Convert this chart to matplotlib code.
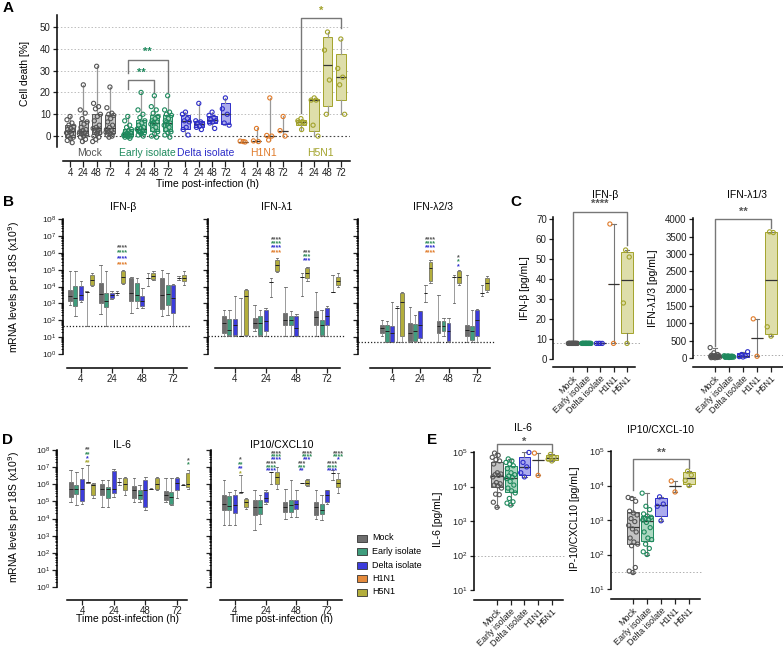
import numpy as np
import matplotlib
matplotlib.use('Agg')
import matplotlib.pyplot as plt
import matplotlib.transforms as mtransforms
from matplotlib.patches import Rectangle
from matplotlib.ticker import LogLocator, NullFormatter, NullLocator

plt.rcParams['font.family'] = ['Liberation Sans', 'DejaVu Sans']

# ---------------- data ----------------
groups = ['Mock', 'Early isolate', 'Delta isolate', 'H1N1', 'H5N1']
hours = ['4', '24', '48', '72']

# A: cell death [%], one list per time point (4, 24, 48, 72 h)
death_mock = [
    [9, 7.5, 6, 5, 4.5, 3.5, 3, 2.5, 2, 1.5, 1, 0, -0.5, -1, -2, -3],
    [23.5, 12, 10.5, 8, 6.5, 5.5, 4, 3, 2.5, 2, 1.5, 1, 0.5, 0, -0.5, -1.5, -2.5, 1.2],
    [32, 15, 13.5, 12.5, 10, 9, 7, 5, 4, 3.5, 3, 2.5, 1.5, 1, 0, -0.5, -1.5, -2.5, 2],
    [22.5, 13, 10.5, 10, 9.5, 8, 6.5, 5, 4, 3, 2.5, 2, 1.5, 1, 0.5, 0, -0.5, 1.8],
]
death_early = [
    [9, 7, 5, 4, 3, 2.5, 2, 1.5, 1, 0.8, 0.5, 0.2, 0, -0.3, -0.5, -1, 1.2, 0.3],
    [20, 12, 10, 8.5, 7, 6, 5, 4, 3.5, 3, 2.5, 2, 1.5, 1, 0.5, 0, 1.8, 3.2],
    [18.5, 13.5, 12, 10.5, 9, 8, 7, 6.5, 6, 5.5, 4, 3, 2, 1, 0, -0.5, 6.2],
    [18.5, 12, 11, 10, 9.5, 8, 7, 6, 5.5, 5, 4, 3, 2, 1.5, 0.5, -0.5, 6.5],
]
death_delta = [
    [11, 10, 8, 7, 6.5, 4, 3, 0.5],
    [15, 7, 6.5, 6, 5.5, 4.5, 4, 3],
    [11, 9.5, 8.5, 7.5, 7, 6.5, 6, 3.5],
    [17.5, 12.5, 10, 6, 5],
]
death_h1n1 = [
    [-2.5, -2.3, -2.7],
    [3.5, -2.2, -2.5],
    [17.5, 0.3, 0, -1.8],
    [9, 2.5, 0],
]
death_h5n1 = [
    [8, 7, 6.5, 6, 6, 3],
    [17.5, 16.5, 16.5, 5, 0],
    [47.7, 39.4, 25.7, 10],
    [44.5, 31, 27, 23.5, 10],
]

# B / D: mRNA per 18S, log10 [min, q1, median, q3, max]; rows = 4/24/48/72 h,
# columns = Mock, Early, Delta, H1N1, H5N1
ifnb_mrna = [
    [[2.92, 3.12, 3.46, 3.81, 4.9], [2.27, 2.83, 3.32, 4.01, 4.9], [3.1, 3.22, 3.52, 4.01, 4.3], [1.64, 3.66, 3.66, 3.66, 3.72], [4.01, 4.11, 4.4, 4.7, 4.8]],
    [[2.39, 3.02, 3.58, 4.21, 5.3], [1.64, 2.79, 3.12, 3.62, 4.9], [3.26, 3.32, 3.5, 3.62, 3.72], [3.5, 3.6, 3.6, 3.6, 3.72], [4.17, 4.21, 4.56, 4.9, 5.0]],
    [[2.43, 3.16, 3.6, 4.5, 4.55], [2.73, 3.12, 3.5, 4.21, 4.5], [2.73, 2.83, 3.12, 3.42, 3.91], [4.01, 4.5, 4.5, 4.5, 4.8], [4.37, 4.45, 4.64, 4.8, 4.9]],
    [[2.23, 2.67, 3.5, 4.5, 5.0], [2.33, 2.92, 3.58, 4.11, 4.8], [1.64, 2.43, 3.32, 4.11, 4.15], [4.4, 4.5, 4.5, 4.5, 4.6], [4.11, 4.31, 4.5, 4.7, 4.9]],
]
ifnl1_mrna = [
    [[1.08, 1.24, 1.83, 2.27, 2.62], [1.08, 1.14, 1.44, 2.09, 2.62], [1.08, 1.14, 1.73, 2.09, 3.41], [1.08, 1.08, 1.08, 1.08, 3.31], [1.08, 1.14, 3.41, 3.8, 3.85]],
    [[1.34, 1.54, 1.83, 2.13, 2.92], [1.08, 1.14, 1.83, 2.23, 2.62], [1.08, 1.34, 1.97, 2.62, 2.72], [3.37, 4.24, 4.24, 4.24, 4.49], [4.85, 4.89, 5.28, 5.58, 5.68]],
    [[1.08, 1.73, 2.03, 2.42, 4.0], [1.08, 1.73, 2.03, 2.27, 2.52], [1.08, 1.08, 1.54, 2.23, 2.38], [3.41, 4.59, 4.59, 4.59, 4.79], [4.3, 4.49, 4.79, 5.09, 5.18]],
    [[1.08, 1.73, 2.19, 2.52, 3.7], [1.08, 1.14, 1.73, 2.03, 2.58], [1.08, 1.73, 2.23, 2.72, 2.82], [3.7, 3.7, 3.7, 3.7, 4.69], [4.0, 4.1, 4.3, 4.59, 4.79]],
]
ifnl23_mrna = [
    [[1.04, 1.24, 1.54, 1.73, 2.03], [0.69, 0.69, 1.34, 1.73, 1.93], [0.69, 0.69, 1.24, 1.63, 3.11], [0.69, 2.72, 2.72, 2.72, 2.82], [0.69, 1.04, 3.11, 3.61, 3.7]],
    [[0.69, 0.75, 1.24, 1.83, 2.78], [0.69, 0.75, 1.34, 1.79, 2.33], [0.69, 0.95, 1.73, 2.52, 2.55], [3.11, 3.61, 3.61, 3.61, 4.1], [4.2, 4.3, 5.09, 5.48, 5.58]],
    [[0.69, 1.24, 1.63, 1.93, 3.51], [1.04, 1.34, 1.67, 1.93, 2.13], [0.69, 0.75, 1.34, 1.83, 2.13], [3.02, 4.59, 4.59, 4.59, 4.69], [4.1, 4.2, 4.55, 4.89, 4.99]],
    [[0.69, 1.04, 1.44, 1.73, 4.69], [0.69, 0.85, 1.34, 1.63, 2.62], [0.69, 1.04, 2.03, 2.62, 2.65], [3.41, 3.61, 3.61, 3.61, 4.1], [3.7, 3.81, 4.2, 4.5, 4.63]],
]
il6_mrna = [
    [[4.97, 5.26, 5.75, 6.14, 6.86], [4.78, 5.42, 5.71, 5.95, 6.73], [4.87, 5.03, 5.75, 6.28, 6.92], [6.1, 6.1, 6.12, 6.12, 7.11], [5.17, 5.36, 5.95, 6.04, 6.08]],
    [[4.68, 5.36, 5.75, 6.04, 6.24], [4.68, 5.17, 5.75, 5.85, 6.24], [5.26, 5.46, 5.75, 6.78, 6.88], [5.95, 6.14, 6.14, 6.14, 6.34], [5.36, 5.65, 6.04, 6.34, 6.43]],
    [[4.97, 5.17, 5.65, 5.89, 6.34], [4.97, 5.11, 5.36, 5.65, 5.95], [4.48, 4.68, 5.65, 6.24, 6.43], [5.7, 5.75, 5.75, 5.75, 5.8], [5.65, 5.75, 6.04, 6.34, 6.43]],
    [[4.97, 5.07, 5.36, 5.59, 6.37], [4.78, 4.87, 5.26, 5.56, 6.34], [5.17, 5.69, 6.1, 6.37, 6.4], [5.93, 5.95, 5.95, 5.95, 6.0], [5.75, 5.85, 6.0, 6.67, 6.82]],
]
ip10_mrna = [
    [[3.61, 4.48, 4.87, 5.36, 6.24], [3.61, 4.48, 4.72, 5.3, 5.56], [3.61, 4.33, 4.78, 5.36, 5.65], [5.46, 5.52, 5.52, 5.52, 6.53], [4.58, 4.68, 4.97, 5.11, 5.17]],
    [[3.31, 4.19, 4.68, 5.07, 5.65], [3.7, 4.29, 4.68, 5.07, 5.36], [4.87, 4.97, 5.22, 5.56, 5.65], [6.04, 6.7, 6.7, 6.7, 6.73], [5.75, 6.04, 6.43, 6.73, 7.02]],
    [[4.0, 4.39, 4.68, 4.97, 5.75], [4.09, 4.39, 4.78, 5.07, 6.24], [4.09, 4.58, 4.87, 5.07, 5.65], [6.06, 6.08, 6.08, 6.08, 6.1], [5.89, 5.95, 6.1, 6.24, 6.28]],
    [[4.0, 4.19, 4.68, 4.97, 5.65], [3.9, 4.29, 4.48, 4.87, 5.36], [4.87, 4.97, 5.36, 5.65, 5.69], [6.24, 6.63, 6.63, 6.63, 6.86], [5.46, 5.85, 6.08, 6.28, 6.63]],
]

# significance marks: (time index, group column, text, colour index, log10 y)
ifnb_stars = [(1, 4, '****', 0, 6.28), (1, 4, '****', 1, 5.99), (1, 4, '****', 2, 5.65), (1, 4, '****', 3, 5.30)]
ifnl1_stars = [(1, 4, '****', 0, 6.76), (1, 4, '****', 1, 6.53), (1, 4, '****', 2, 6.27), (1, 4, '****', 3, 6.03),
               (2, 4, '***', 0, 6.03), (2, 4, '***', 1, 5.78), (2, 4, '***', 2, 5.54)]
ifnl23_stars = [(1, 4, '****', 0, 6.76), (1, 4, '****', 1, 6.53), (1, 4, '****', 2, 6.27), (1, 4, '****', 3, 6.03),
                (2, 4, '*', 0, 5.72), (2, 4, '*', 1, 5.44), (2, 4, '*', 2, 5.17)]
il6_stars = [(0, 3, '**', 0, 7.99), (0, 3, '**', 1, 7.74), (0, 3, '*', 2, 7.49), (0, 3, '**', 4, 7.25),
             (3, 4, '*', 0, 7.38), (3, 4, '*', 1, 7.15)]
ip10_stars = [(0, 3, '*', 0, 7.41), (0, 3, '**', 1, 7.15), (0, 3, '**', 2, 6.92), (0, 3, '*', 4, 6.63),
              (1, 4, '****', 0, 7.76), (1, 4, '****', 1, 7.6), (1, 4, '****', 2, 7.45),
              (1, 3, '****', 0, 7.17), (1, 3, '****', 1, 6.98), (1, 3, '****', 2, 6.78),
              (2, 4, '****', 0, 7.76), (2, 4, '****', 1, 7.6), (2, 4, '***', 2, 7.45),
              (2, 3, '***', 0, 7.17), (2, 3, '***', 1, 6.98), (2, 3, '**', 2, 6.78),
              (3, 4, '****', 0, 7.76), (3, 4, '****', 1, 7.6), (3, 4, '*', 2, 7.45),
              (3, 3, '****', 0, 7.17), (3, 3, '****', 1, 6.98), (3, 3, '****', 2, 6.78)]

# C: protein [pg/mL]
ifnb_prot = [
    [7.8] * 18,
    [7.8] * 18,
    [7.8] * 4,
    [7.8, 67.5],
    [7.8, 28, 51, 54.5],
]
ifnl_prot = [
    [5, 10, 15, 20, 25, 30, 35, 40, 45, 50, 55, 60, 65, 70, 80, 100, 150, 300],
    [15, 20, 20, 25, 25, 30, 30, 35, 35, 40, 40, 45, 45, 50, 50, 55, 60, 65],
    [30, 40, 60, 100, 180],
    [50, 1130],
    [630, 900, 3620, 3640],
]
# E: protein [pg/mL]
il6_prot = [
    [2500, 3500, 5800, 6000, 9000, 10500, 11000, 12000, 13000, 19000, 21000, 22000, 23000, 25000,
     45000, 55000, 60000, 70000, 80000, 93000],
    [2900, 3300, 3600, 4500, 6500, 7500, 9000, 11000, 14000, 17000, 18500, 20000, 22000, 25000,
     33000, 40000, 45000, 50000, 55000, 63000],
    [19000, 25000, 37000, 50000, 97000],
    [21000, 93000],
    [55000, 62000, 70000, 85000],
]
ip10_prot = [
    [30, 33, 42, 180, 200, 230, 300, 450, 550, 700, 900, 1100, 1400, 1600, 1800, 3500, 4200, 4500],
    [100, 120, 150, 200, 270, 300, 450, 600, 850, 1000, 1050, 1100, 1200, 1300, 1500, 2000, 2500, 6000],
    [950, 2500, 2900, 4700],
    [6500, 13500],
    [10000, 14000, 20000, 26000],
]

# ---------------- style ----------------
edge_cols = ['#555555', '#1f8a5e', '#2d2dc8', '#e07b2a', '#a3a32c']
fill_cols = ['#c4c4c4', '#acd7c1', '#ababee', '#f2c9a4', '#dedeaa']
solid_cols = ['#6e6e6e', '#3f9d7d', '#3c3cdc', '#e48a3c', '#b3ae3c']
star_cols = ['#555555', '#2e8b57', '#2f2fd0', '#e07b2a', '#a6a62e']

W, H = 783, 652
fig = plt.figure(figsize=(W / 100, H / 100), dpi=100)


def add_ax(x0, y0, x1, y1):
    # axes from a pixel box, top-left origin
    return fig.add_axes([x0 / W, 1 - y1 / H, (x1 - x0) / W, (y1 - y0) / H])


def ftext(x, y, s, **kw):
    fig.text(x / W, 1 - y / H, s, **kw)


def clean(ax, lw=1.1):
    ax.spines['top'].set_visible(False)
    ax.spines['right'].set_visible(False)
    ax.spines['left'].set_linewidth(lw)
    ax.spines['bottom'].set_linewidth(lw)
    ax.tick_params(width=0.9, length=3, labelsize=7, pad=1.5, colors='#222222')


def box_stats(vals, flat=False):
    v = np.asarray(vals, float)
    q1, med, q3 = np.percentile(v, [25, 50, 75], method='weibull')
    if flat:
        q1 = q3 = med
    return dict(whislo=v.min(), q1=q1, med=med, q3=q3, whishi=v.max(), fliers=[])


def spread(n, width):
    # golden-ratio offsets so the points of a column do not pile up
    return ((np.arange(n) * 0.618034 + 0.5) % 1 - 0.5) * width


def bracket(ax, x0, x1, y, yl0, yl1, text, color, ty, fs=8):
    ax.plot([x0, x0, x1, x1], [yl0, y, y, yl1], color='#777777', lw=1, clip_on=False)
    ax.text((x0 + x1) / 2, ty, text, ha='center', va='center', color=color, fontsize=fs,
            fontweight='bold', clip_on=False)


# ---------------- A ----------------
axA = add_ax(57, 15, 350, 147)
clean(axA)
axA.spines['bottom'].set_position(('outward', 10))
gap = 4.34
axA.set_xlim(-0.98, 21.05)
axA.set_ylim(-5, 55.5)
for v in [10, 20, 30, 40, 50]:
    axA.axhline(v, color='#bdbdbd', lw=0.7, ls=(0, (1.5, 2)), zorder=0)
axA.axhline(0, color='#444444', lw=0.8, ls=(0, (1.5, 2)), zorder=0)
death_data = [death_mock, death_early, death_delta, death_h1n1, death_h5n1]
all_pos = []
for g, series in enumerate(death_data):
    pos = [g * gap + t for t in range(4)]
    all_pos += pos
    stats = [box_stats(v, flat=(g == 3)) for v in series]
    axA.bxp(stats, positions=pos, widths=0.72, patch_artist=True, showfliers=False, showcaps=False,
            boxprops=dict(facecolor=fill_cols[g], edgecolor=edge_cols[g], linewidth=0.7),
            medianprops=dict(color='#333333', linewidth=0.9),
            whiskerprops=dict(color='#999999', linewidth=0.9))
    for p, v in zip(pos, series):
        axA.scatter(p + spread(len(v), 0.6), v, s=9, facecolors='none', edgecolors=edge_cols[g],
                    linewidths=0.8, zorder=3, clip_on=False)
    trans = mtransforms.blended_transform_factory(axA.transData, axA.transAxes)
    axA.text(g * gap + 1.5, -0.045, groups[g], transform=trans, ha='center', va='center',
             color=edge_cols[g], fontsize=7.5)
axA.set_xticks(all_pos)
axA.set_xticklabels(hours * 5)
axA.tick_params(axis='x', length=4.3, pad=1)
axA.spines['bottom'].set_bounds(-0.5, 21.05)
axA.set_yticks([0, 10, 20, 30, 40, 50])
axA.set_ylabel('Cell death [%]', fontsize=7.5)
axA.yaxis.set_label_coords(-0.092, 0.56)
bracket(axA, gap, gap + 2, 25.7, 21.5, 20, '**', edge_cols[1], 29.2)
bracket(axA, gap, gap + 3, 35, 29, 20, '**', edge_cols[1], 38.5)
bracket(axA, 4 * gap, 4 * gap + 3, 54, 10.5, 49.5, '*', edge_cols[4], 57.5)
ftext(207, 184, 'Time post-infection (h)', ha='center', va='center', fontsize=7.5)


# ---------------- B / D ----------------
def mrna_axes(box, tick0, step, span, data, stars, det=None, ylabels=False, out_pt=10):
    x0, y0, x1, y1 = box
    ax = add_ax(*box)
    clean(ax)
    ax.spines['bottom'].set_position(('outward', out_pt))
    ax.set_yscale('log')
    ax.set_ylim(1, 1e8)
    ax.set_xlim((x0 - tick0) / step, (x1 - tick0) / step)
    if det is not None:
        ax.axhline(10 ** det, color='#222222', lw=0.9, ls=(0, (1, 1.5)), zorder=0)
    for t in range(4):
        for g in range(5):
            lo, q1, med, q3, hi = [10 ** v for v in data[t][g]]
            st = dict(whislo=lo, q1=q1, med=med, q3=q3, whishi=hi, fliers=[])
            ax.bxp([st], positions=[t + (g - 2) * 0.18], widths=0.13, patch_artist=True,
                   showfliers=False, capwidths=0.08,
                   boxprops=dict(facecolor=solid_cols[g], edgecolor='#444444', linewidth=0.4),
                   medianprops=dict(color='#222222', linewidth=0.7),
                   whiskerprops=dict(color='#8a8a8a', linewidth=0.6),
                   capprops=dict(color='#666666', linewidth=0.6))
    for t, g, s, c, ly in stars:
        ax.text(t + (g - 2) * 0.18, 10 ** ly, s, ha='center', va='center', fontsize=5,
                color=star_cols[c], fontweight='bold')
    ax.yaxis.set_major_locator(LogLocator(base=10, numticks=12))
    ax.yaxis.set_minor_locator(LogLocator(base=10, subs=np.arange(2, 10), numticks=12))
    ax.yaxis.set_minor_formatter(NullFormatter())
    ax.tick_params(axis='y', which='minor', length=1.8, width=0.6)
    ax.tick_params(axis='y', which='major', length=3.5, labelsize=6)
    if not ylabels:
        ax.yaxis.set_major_formatter(NullFormatter())
    ax.set_xticks(range(4))
    ax.set_xticklabels(hours)
    ax.tick_params(axis='x', length=3.5, pad=1)
    ax.spines['bottom'].set_bounds((span[0] - tick0) / step, (span[1] - tick0) / step)
    return ax


axB1 = mrna_axes((63, 219, 190, 354), 81, 30.7, (67, 187), ifnb_mrna, ifnb_stars, det=1.64, ylabels=True)
axB2 = mrna_axes((208, 219, 345, 354), 235, 30.7, (215, 340), ifnl1_mrna, ifnl1_stars, det=1.08)
axB3 = mrna_axes((358, 219, 495, 354), 392, 28.3, (370, 490), ifnl23_mrna, ifnl23_stars, det=0.69)
axB1.set_ylabel('mRNA levels per 18S (x10$^9$)', fontsize=7.5)
axB1.yaxis.set_label_coords(-0.32, 0.5)

axD1 = mrna_axes((57, 450, 190, 587), 82, 31.7, (67, 187), il6_mrna, il6_stars, ylabels=True, out_pt=9.4)
axD2 = mrna_axes((211, 450, 345, 587), 235, 30.7, (220, 342), ip10_mrna, ip10_stars, out_pt=9.4)
axD1.set_ylabel('mRNA levels per 18S (x10$^9$)', fontsize=7.5)
axD1.yaxis.set_label_coords(-0.26, 0.51)
ftext(128, 619, 'Time post-infection (h)', ha='center', va='center', fontsize=7.5)
ftext(282, 619, 'Time post-infection (h)', ha='center', va='center', fontsize=7.5)

# legend
legax = add_ax(350, 530, 470, 600)
legax.axis('off')
legax.set_xlim(350, 470)
legax.set_ylim(600, 530)
for i, name in enumerate(groups):
    yy = 538 + i * 13.5
    legax.add_patch(Rectangle((357, yy - 3.5), 10, 7, facecolor=solid_cols[i], edgecolor='#333333', lw=0.6))
    legax.text(372, yy, name, va='center', ha='left', fontsize=6.5)


# ---------------- C / E ----------------
def prot_axes(box, cat0, step, right, vals, out_pt):
    x0, y0, x1, y1 = box
    ax = add_ax(*box)
    clean(ax)
    ax.spines['bottom'].set_position(('outward', out_pt))
    ax.set_xlim((x0 - cat0) / step, (x1 - cat0) / step)
    for g, v in enumerate(vals):
        st = box_stats(v, flat=(g == 3))
        ax.bxp([st], positions=[g], widths=0.85, patch_artist=True, showfliers=False, capwidths=0.35,
               boxprops=dict(facecolor=fill_cols[g], edgecolor=edge_cols[g], linewidth=0.7),
               medianprops=dict(color='#333333', linewidth=0.9),
               whiskerprops=dict(color='#777777', linewidth=0.8),
               capprops=dict(color='#777777', linewidth=0.8))
        ax.scatter(g + spread(len(v), 0.7), v, s=9, facecolors='none', edgecolors=edge_cols[g],
                   linewidths=0.8, zorder=3, clip_on=False)
    ax.set_xticks(range(5))
    ax.set_xticklabels(groups, rotation=45, ha='right', rotation_mode='anchor', fontsize=6.5)
    ax.tick_params(axis='x', length=3.5, pad=1.5)
    ax.spines['bottom'].set_bounds((x0 - cat0) / step, (right - cat0) / step)
    return ax


axC1 = prot_axes((553, 217, 640, 359), 573, 13.5, 635, ifnb_prot, 5.6)
axC1.set_ylim(0, 71)
axC1.set_yticks(range(0, 80, 10))
axC1.axhline(7.8, color='#aaaaaa', lw=0.7, ls=(0, (1.5, 2)), zorder=0)
axC1.set_ylabel('IFN-β [pg/mL]', fontsize=7.5)
axC1.yaxis.set_label_coords(-0.26, 0.5)
bracket(axC1, 0, 4, 73.5, 9, 57, '****', '#555555', 77.5)

axC2 = prot_axes((693, 218, 783, 358), 715, 14, 783, ifnl_prot, 6.2)
axC2.set_ylim(0, 4040)
axC2.set_yticks(range(0, 4001, 500))
axC2.axhline(80, color='#aaaaaa', lw=0.7, ls=(0, (1.5, 2)), zorder=0)
axC2.set_ylabel('IFN-λ1/3 [pg/mL]', fontsize=7.5)
axC2.yaxis.set_label_coords(-0.39, 0.5)
bracket(axC2, 0, 4, 4000, 350, 3750, '**', '#555555', 4230)


def log_prot(ax, det, lab, labx):
    ax.set_yscale('log')
    ax.set_ylim(10, 1e5)
    ax.yaxis.set_major_locator(LogLocator(base=10, numticks=6))
    ax.yaxis.set_minor_locator(NullLocator())
    ax.tick_params(axis='y', labelsize=6.5)
    ax.axhline(det, color='#b0b0b0', lw=0.7, ls=(0, (1.5, 2)), zorder=0)
    ax.set_ylabel(lab, fontsize=7.5)
    ax.yaxis.set_label_coords(labx, 0.51)


axE1 = prot_axes((474, 452, 565, 590), 497, 13.7, 563, il6_prot, 7.2)
log_prot(axE1, 100, 'IL-6 [pg/mL]', -0.34)
bracket(axE1, 0, 4, 10 ** 5.23, 10 ** 5.0, 10 ** 5.0, '*', '#555555', 10 ** 5.29)

axE2 = prot_axes((611, 451, 702, 589), 633, 14, 700, ip10_prot, 7.2)
log_prot(axE2, 31, 'IP-10/CXCL10 [pg/mL]', -0.34)
bracket(axE2, 0, 4, 10 ** 4.77, 10 ** 3.87, 10 ** 4.5, '**', '#555555', 10 ** 4.94)

# ---------------- titles and panel letters ----------------
for s, x, y in [('IFN-β', 123, 207), ('IFN-λ1', 277, 207), ('IFN-λ2/3', 433, 207),
                ('IFN-β', 605, 195), ('IFN-λ1/3', 747, 195),
                ('IL-6', 122, 445), ('IP10/CXCL10', 282, 445),
                ('IL-6', 523, 428), ('IP10/CXCL-10', 660, 430)]:
    ftext(x, y, s, ha='center', va='center', fontsize=7.5)

for s, x, y in [('A', 3, 8), ('B', 3, 202), ('C', 510, 202), ('D', 2, 440), ('E', 427, 440)]:
    ftext(x, y, s, ha='left', va='center', fontsize=11, fontweight='bold')

fig.savefig('out.png', dpi=100)
